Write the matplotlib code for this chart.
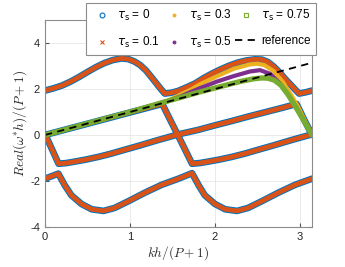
import numpy as np
import matplotlib
matplotlib.use('Agg')
import matplotlib.pyplot as plt
from matplotlib.lines import Line2D

# branches for tau_s = 0 / 0.1
upper_x = [0, 0.1, 0.2, 0.3, 0.4, 0.5, 0.6, 0.7, 0.8, 0.9, 0.98, 1.05, 1.12, 1.19, 1.26, 1.32, 1.37, 1.41,
           1.49, 1.57, 1.67, 1.77, 1.87, 1.97, 2.07, 2.17, 2.27, 2.37, 2.47, 2.55, 2.62, 2.69, 2.76, 2.83,
           2.9, 2.95, 2.99, 3.07, 3.1416]
upper_y = [1.93, 2.03, 2.15, 2.32, 2.52, 2.74, 2.95, 3.13, 3.26, 3.33, 3.3, 3.2, 3.04, 2.8, 2.48, 2.2, 1.97, 1.8,
           1.84, 1.92, 2.08, 2.25, 2.48, 2.68, 2.86, 3.02, 3.15, 3.24, 3.29, 3.28, 3.18, 2.98, 2.72, 2.42,
           2.15, 1.95, 1.8, 1.86, 1.93]

mid1_x = [0, 0.5, 1.0, 1.38, 1.47, 1.56, 1.65, 1.73, 1.82, 1.9, 2.05, 2.2, 2.35, 2.5, 2.7, 2.9, 3.1416]
mid1_y = [0, 0.49, 0.98, 1.35, 0.68, 0.02, -0.65, -1.25, -1.22, -1.17, -1.07, -0.95, -0.81, -0.65, -0.44, -0.22, 0.03]

mid2_x = [0, 0.08, 0.16, 0.25, 0.33, 0.48, 0.63, 0.78, 0.93, 1.13, 1.33, 1.571, 1.8, 2.0, 2.2, 2.4, 2.6, 2.8,
          2.96, 3.05, 3.1416]
mid2_y = [0.05, -0.6, -1.25, -1.22, -1.17, -1.07, -0.95, -0.81, -0.65, -0.44, -0.22, 0.03, 0.22, 0.42, 0.61,
          0.81, 1.0, 1.19, 1.35, 0.66, 0.0]

lower_x = [0, 0.157, 0.235, 0.31, 0.43, 0.55, 0.69, 0.82, 0.98, 1.18, 1.37, 1.57, 1.73, 1.81, 1.88, 2.0, 2.12,
           2.26, 2.39, 2.55, 2.75, 2.94, 3.1416]
lower_y = [-1.9, -1.68, -2.2, -2.62, -3.0, -3.23, -3.3, -3.17, -2.88, -2.5, -2.17, -1.9, -1.66, -2.2, -2.62,
           -3.0, -3.23, -3.3, -3.17, -2.88, -2.5, -2.17, -1.9]

# physical mode for larger tau_s
tau03_x = [0, 0.5, 1.0, 1.3, 1.45, 1.6, 1.72, 1.82, 2.02, 2.22, 2.41, 2.5, 2.58, 2.69, 2.8, 2.9, 2.98, 3.06, 3.1416]
tau03_y = [0, 0.5, 1.0, 1.32, 1.5, 1.77, 1.98, 2.2, 2.55, 2.88, 3.07, 3.1, 3.04, 2.78, 2.3, 1.72, 1.2, 0.6, 0]

tau05_x = [0, 0.5, 1.0, 1.3, 1.45, 1.6, 1.71, 1.82, 2.02, 2.22, 2.41, 2.53, 2.65, 2.76, 2.86, 2.94, 3.02, 3.08, 3.1416]
tau05_y = [0, 0.5, 1.0, 1.32, 1.48, 1.68, 1.86, 2.03, 2.32, 2.56, 2.76, 2.82, 2.66, 2.25, 1.75, 1.3, 0.8, 0.42, 0]

tau075_x = [0, 0.5, 1.0, 1.4, 1.8, 2.1, 2.3, 2.45, 2.55, 2.62, 2.7, 2.78, 2.86, 2.94, 3.02, 3.08, 3.1416]
tau075_y = [0, 0.5, 1.0, 1.43, 1.85, 2.14, 2.33, 2.44, 2.48, 2.47, 2.38, 2.15, 1.75, 1.28, 0.78, 0.4, 0]

ref_x = [0, np.pi]
ref_y = [0, np.pi]

tau_labels = ['0', '0.1', '0.3', '0.5', '0.75']
colors = ['#0072BD', '#D95319', '#EDB120', '#7E2F8E', '#77AC30']
markers = ['o', 'x', '.', '.', 's']

plt.rcParams['font.family'] = ['Liberation Sans', 'DejaVu Sans']
plt.rcParams['axes.unicode_minus'] = False

fig = plt.figure(figsize=(3.45, 2.67), dpi=100)
ax = fig.add_axes([0.1304, 0.1498, 0.774, 0.7753])

branches = [(upper_x, upper_y), (mid1_x, mid1_y), (mid2_x, mid2_y), (lower_x, lower_y)]
# tau_s = 0 (blauw) onder tau_s = 0.1 (oranje)
for bx, by in branches:
    ax.plot(bx, by, color=colors[0], lw=4.8, solid_joinstyle='round', solid_capstyle='round')
for bx, by in branches:
    ax.plot(bx, by, color=colors[1], lw=3.4, solid_joinstyle='round', solid_capstyle='round')

ax.plot(tau03_x, tau03_y, color=colors[2], lw=3.0, solid_joinstyle='round')
ax.plot(tau05_x, tau05_y, color=colors[3], lw=3.0, solid_joinstyle='round')
ax.plot(tau075_x, tau075_y, color=colors[4], lw=3.8, solid_joinstyle='round', solid_capstyle='round')
ax.plot(ref_x, ref_y, color='k', lw=1.3, linestyle=(0, (4, 3)))

ax.set_xlim(0, np.pi)
ax.set_ylim(-4, 5)
ax.set_xticks([0, 1, 2, 3])
ax.set_yticks([-4, -2, 0, 2, 4])
ax.grid(True, color='#e6e6e6', lw=0.6)
ax.set_axisbelow(True)
ax.tick_params(direction='in', length=3, labelsize=8, colors='#555555', labelcolor='#262626',
               top=True, right=True)
for sp in ax.spines.values():
    sp.set_color('#8c8c8c')
    sp.set_linewidth(0.8)

ax.set_xlabel(r'$kh/(P+1)$', fontsize=9.5, math_fontfamily='cm', color='#262626', labelpad=2)
ax.set_ylabel(r'$Real(\omega^{*}h)/(P+1)$', fontsize=9.5, math_fontfamily='cm', color='#262626', labelpad=1)

# legenda met alleen markers
handles = []
for lab, c, m in zip(tau_labels, colors, markers):
    mfc = 'none' if m in ('o', 's') else c
    handles.append(Line2D([], [], color=c, marker=m, linestyle='none', markersize=3.5 if m != '.' else 4,
                          markerfacecolor=mfc, markeredgewidth=0.8,
                          label=r'$\tau_\mathrm{s}$ = ' + lab))
handles.append(Line2D([], [], color='k', lw=1.3, linestyle=(0, (4, 3)), label='reference'))
leg = ax.legend(handles=handles, ncol=3, loc='upper right', bbox_to_anchor=(1.015, 1.083),
                fontsize=8.5, frameon=True, fancybox=False, framealpha=1, edgecolor='#8c8c8c',
                handlelength=1.9, handletextpad=0.35, columnspacing=0.2, labelspacing=1.0,
                borderpad=0.45, borderaxespad=0)
leg.get_frame().set_linewidth(0.8)
for t in leg.get_texts():
    t.set_math_fontfamily('dejavusans')

fig.savefig('out.png', dpi=100)
